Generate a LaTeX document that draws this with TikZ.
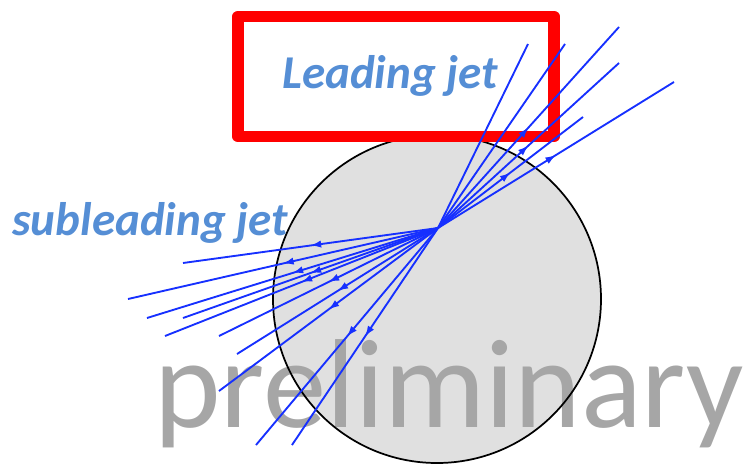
\documentclass[tikz,border=0pt]{standalone}
\usepackage{fontspec}
\setmainfont{Carlito}
\usetikzlibrary{arrows.meta,decorations.markings}
\definecolor{trackblue}{RGB}{22,48,255}
\definecolor{jetblue}{RGB}{85,142,213}
\definecolor{markgray}{RGB}{166,166,166}
\definecolor{discgray}{RGB}{224,224,224}
\tikzset{
  every node/.style={
    inner sep=0pt
  },
  track/.style={
    draw=trackblue,
    color=trackblue,
    line width=1.4pt
  },
  arrowed track/.style={
    track,
    postaction={decorate},
    decoration={
      markings,
      mark=at position 0.5 with {\arrow{Latex[length=8pt,width=5.5pt]}}
    }
  },
  jet label/.style={
    anchor=base west,
    text=jetblue,
    font=\fontsize{35.3}{40}\selectfont\bfseries\itshape
  },
  watermark/.style={
    anchor=base west,
    text=markgray,
    font=\fontsize{95}{106}\selectfont
  },
  lead box/.style={
    shape=rectangle,
    draw=red,
    line width=8.6pt,
    line join=round,
    minimum width=237pt,
    minimum height=90pt
  },
  disc edge/.style={
    draw=black,
    line width=1.3pt
  }
}

\begin{document}
\begin{tikzpicture}[x=0.75pt,y=-0.75pt]
  \useasboundingbox (0,0) rectangle (746,465);
  % detector disc, text sits between fill and outline
  \coordinate (det) at (437,299);
  \fill[discgray] (det) circle (164);
  \node[watermark] (prelim) at (154,427) {preliminary};
  \draw[disc edge] (det) circle (164);
  % box and labels
  \node[lead box] (leadbox) at (396,76.5) {};
  \node[jet label] (leading) at (282,88) {Leading jet};
  \node[jet label] (subleading) at (12,235) {subleading jet};
  % tracks out of the vertex
  \coordinate (vtx) at (438,228);
  \foreach \n/\x/\y in {1/528/44, 2/565/44, 3/619/27, 4/619/63, 5/583/117, 6/674/82}
    \coordinate (lead\n) at (\x,\y);
  \foreach \n/\x/\y in {1/183/263, 2/128/299, 3/147/318, 4/183/318, 5/165/336,
                        6/219/336, 7/237/354, 8/219/391, 9/256/445, 10/292/445}
    \coordinate (sub\n) at (\x,\y);
  \foreach \n in {1,2}
    \draw[track] (vtx) -- (lead\n);
  \foreach \n in {3,...,6}
    \draw[arrowed track] (vtx) -- (lead\n);
  \foreach \n in {1,...,10}
    \draw[arrowed track] (vtx) -- (sub\n);
\end{tikzpicture}
\end{document}
